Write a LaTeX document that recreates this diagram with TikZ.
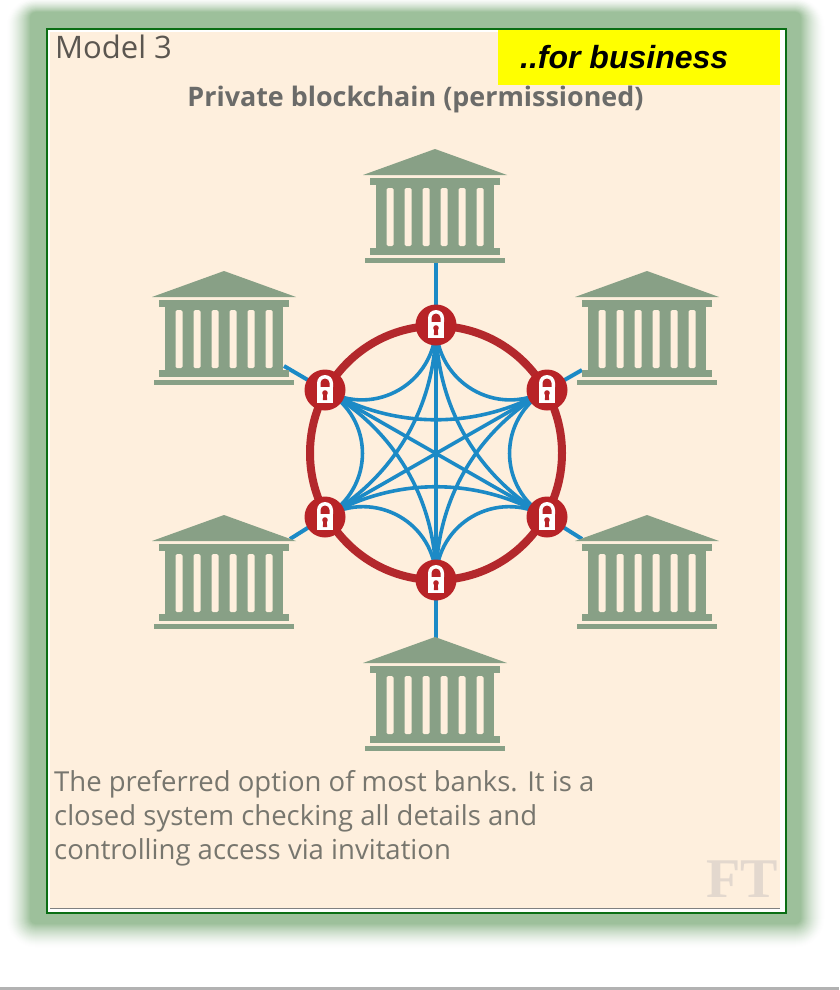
\documentclass[tikz,border=0pt]{standalone}
\usepackage{fontspec}
\setmainfont{Open Sans}
\newfontfamily\arialf{Liberation Sans}
\newfontfamily\serifff{Liberation Serif}
\usetikzlibrary{calc}
\definecolor{shadowg}{HTML}{9DC09B}
\definecolor{framegreen}{HTML}{0A6E14}
\definecolor{creambg}{HTML}{FEEFDD}
\definecolor{bankc}{HTML}{88A086}
\definecolor{ringred}{HTML}{B3282C}
\definecolor{lockred}{HTML}{B82327}
\definecolor{linkblue}{HTML}{1C8AC6}
\definecolor{txta}{HTML}{5B5650}
\definecolor{txtb}{HTML}{6B6B69}
\definecolor{txtc}{HTML}{77766E}
\definecolor{ftc}{HTML}{E3D8CE}
\definecolor{yel}{rgb}{1,1,0}
\tikzset{
  bank/.pic={
    \fill[bankc] (0,-56) -- (72,-30) -- (-72,-30) -- cycle;
    \fill[bankc] (-65,-27) rectangle (65,-20);
    \fill[bankc] (-59,-20) rectangle (59,43);
    \fill[bankc] (-65,43) rectangle (65,50);
    \fill[bankc] (-70,53) rectangle (70,58);
    \foreach \sx in {-45,-27,-9,9,27,45}
      \fill[creambg,rounded corners=1.5pt] (\sx-3.5,-17) rectangle (\sx+3.5,41);
  },
  lockglyph/.pic={
    \fill[white] (-8,-3) -- (-8,-7) arc[start angle=180,end angle=360,radius=8] -- (8,-3) -- cycle;
    \fill[lockred] (-4.5,-3) -- (-4.5,-7) arc[start angle=180,end angle=360,radius=4.5] -- (4.5,-3) -- cycle;
    \fill[white] (-8,-3) rectangle (8,13);
    \fill[lockred] (0,3) circle (2.8);
    \fill[lockred] (-1.6,3) -- (1.6,3) -- (2.2,10) -- (-2.2,10) -- cycle;
  },
  locknode/.style={circle,fill=lockred,minimum size=41pt,inner sep=0pt},
  mesh/.style={draw=linkblue,line width=3.6pt},
  spoke/.style={draw=linkblue,line width=4pt},
  ringline/.style={draw=ringred,line width=8pt},
}
\begin{document}
\begin{tikzpicture}[x=1pt,y=-1pt]
\useasboundingbox (0,0) rectangle (839,990);
\fill[white] (0,0) rectangle (839,990);
% soft shadow
\foreach \i in {24,23,...,0}{
  \pgfmathsetmacro{\mixv}{100*(1-\i/24)^1.5}
  \fill[shadowg!\mixv!white,rounded corners=\i+6] (30-\i,12-\i*0.6) rectangle (801+\i,924+\i);
}
% panel
\fill[white] (47,29) rectangle (786,913);
\fill[creambg] (50,32) rectangle (780,909);
\draw[framegreen,line width=2pt] (47,29.5) rectangle (785.5,912.5);
\draw[gray,line width=1.2pt] (50,908.5) -- (780,908.5);
\fill[gray!60] (0,987) rectangle (839,990);
% yellow label
\node[name=biz,fill=yel,minimum width=282pt,minimum height=55pt,inner sep=0pt,anchor=north west,
  font=\arialf\bfseries\itshape\fontsize{32}{34}\selectfont,text=black] at (498,30) {\hspace*{-30pt}\raisebox{1pt}{..for business}};
\node[name=modeltxt,anchor=base west,inner sep=0,text=txta,font=\fontsize{31}{36}\selectfont] at (55,59) {Model 3};
\node[name=titletxt,anchor=base,inner sep=0,text=txtb,font=\bfseries\fontsize{26.9}{30}\selectfont] at (415.5,106) {Private blockchain (permissioned)};
\node[name=p1,anchor=base west,inner sep=0,text=txtc,font=\fontsize{27.5}{30}\selectfont] at (54,791) {The preferred option of most banks. It is a};
\node[name=p2,anchor=base west,inner sep=0,text=txtc,font=\fontsize{27.5}{30}\selectfont] at (54,825) {closed system checking all details and};
\node[name=p3,anchor=base west,inner sep=0,text=txtc,font=\fontsize{27.5}{30}\selectfont] at (54,859) {controlling access via invitation};
\node[name=ftlogo,anchor=base east,inner sep=0,text=ftc,font=\serifff\bfseries\fontsize{56}{60}\selectfont] at (778,897) {FT};
% hub geometry
\coordinate (C) at (436,453);
\coordinate (A1) at (436,325);
\coordinate (A2) at (547,390);
\coordinate (A3) at (547,517);
\coordinate (A4) at (436,580);
\coordinate (A5) at (325,517);
\coordinate (A6) at (325,390);
% spoke ends at the banks
\coordinate (S1) at (436,262);
\coordinate (S2) at (582,370);
\coordinate (S3) at (582,539);
\coordinate (S4) at (436,638);
\coordinate (S5) at (290,539);
\coordinate (S6) at (284,366);
\foreach \k in {1,...,6} \draw[spoke] (S\k) -- (A\k);
% mesh
\foreach \a/\b in {1/2,2/3,3/4,4/5,5/6,6/1}
  \draw[mesh] (A\a) .. controls ($(A\a)!0.45!(C)$) and ($(A\b)!0.45!(C)$) .. (A\b);
\foreach \a/\b in {1/3,2/4,3/5,4/6,5/1,6/2}
  \draw[mesh] (A\a) .. controls ($(A\a)!0.63!(C)$) and ($(A\b)!0.63!(C)$) .. (A\b);
\foreach \a/\b in {1/4,2/5,3/6}
  \draw[mesh] (A\a) -- (A\b);
% ring
\draw[ringline] (C) ellipse[x radius=126,y radius=127];
% banks
\pic at (435,205) {bank};
\pic at (224,327) {bank};
\pic at (647,327) {bank};
\pic at (224,571) {bank};
\pic at (647,571) {bank};
\pic at (435,693) {bank};
% locks
\foreach \k in {1,...,6}{
  \node[locknode] (L\k) at (A\k) {};
  \pic at (A\k) {lockglyph};
}
\end{tikzpicture}
\end{document}
